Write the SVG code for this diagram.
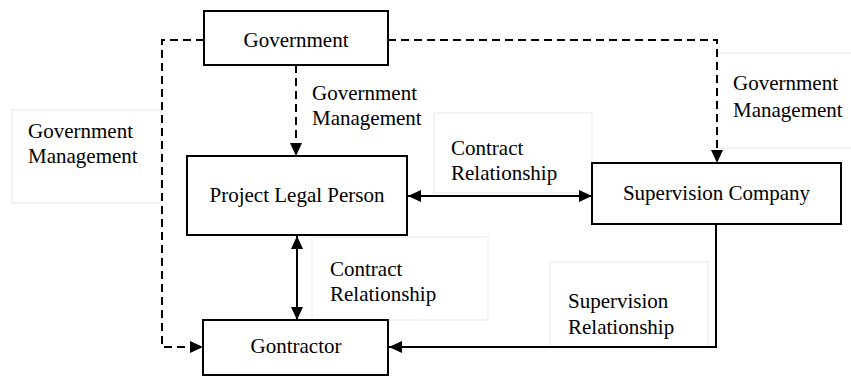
<svg xmlns="http://www.w3.org/2000/svg" width="851" height="378" viewBox="0 0 851 378">
<style>
text{font-family:"Liberation Serif","Times New Roman",serif;font-size:21px;fill:#000}
.node rect{fill:#fff;stroke:#000;stroke-width:2}
.lbl rect{fill:none;stroke:#ececec;stroke-width:1.2}
.c{fill:none;stroke:#000;stroke-width:2}
.d{stroke-dasharray:8,5}
</style>
<defs>
<marker id="ah" markerUnits="userSpaceOnUse" markerWidth="13" markerHeight="12" viewBox="0 0 13 12" refX="13" refY="6" orient="auto-start-reverse">
<path d="M0,0 L13,6 L0,12 z" fill="#000"/>
</marker>
</defs>
<g id="labels">
<g class="lbl" id="lbl-left"><rect x="12" y="110" width="149" height="93"/><text x="28" y="138">Government</text><text x="28" y="163">Management</text></g>
<g class="lbl" id="lbl-top"><text x="312" y="100">Government</text><text x="312" y="125">Management</text></g>
<g class="lbl" id="lbl-contract1"><rect x="434" y="113" width="158" height="80"/><text x="451" y="155">Contract</text><text x="451" y="180">Relationship</text></g>
<g class="lbl" id="lbl-right"><rect x="717" y="53" width="140" height="95"/><text x="733" y="90">Government</text><text x="733" y="117">Management</text></g>
<g class="lbl" id="lbl-contract2"><rect x="312" y="237" width="176" height="83"/><text x="330" y="276">Contract</text><text x="330" y="301">Relationship</text></g>
<g class="lbl" id="lbl-supervision"><rect x="550" y="262" width="158" height="85"/><text x="568" y="308">Supervision</text><text x="568" y="334">Relationship</text></g>
</g>
<g id="connectors">
<path class="c d" d="M204,40 H162 V347 H203" marker-end="url(#ah)"/>
<path class="c d" d="M388,40 H717 V163" marker-end="url(#ah)"/>
<path class="c d" d="M296,65 V156" marker-end="url(#ah)"/>
<path class="c" d="M408,196 H592" marker-start="url(#ah)" marker-end="url(#ah)"/>
<path class="c" d="M297,236 V320" marker-start="url(#ah)" marker-end="url(#ah)"/>
<path class="c" d="M716,225 V347 H389" marker-end="url(#ah)"/>
</g>
<g class="node" id="government"><rect x="204" y="11" width="184" height="54"/><text x="296" y="47" text-anchor="middle">Government</text></g>
<g class="node" id="project-legal-person"><rect x="187" y="156" width="220" height="79"/><text x="297" y="202" text-anchor="middle">Project Legal Person</text></g>
<g class="node" id="supervision-company"><rect x="592" y="163" width="249" height="61"/><text x="716.5" y="200" text-anchor="middle">Supervision Company</text></g>
<g class="node" id="contractor"><rect x="203" y="320" width="185" height="55"/><text x="296" y="353" text-anchor="middle">Gontractor</text></g>
</svg>
